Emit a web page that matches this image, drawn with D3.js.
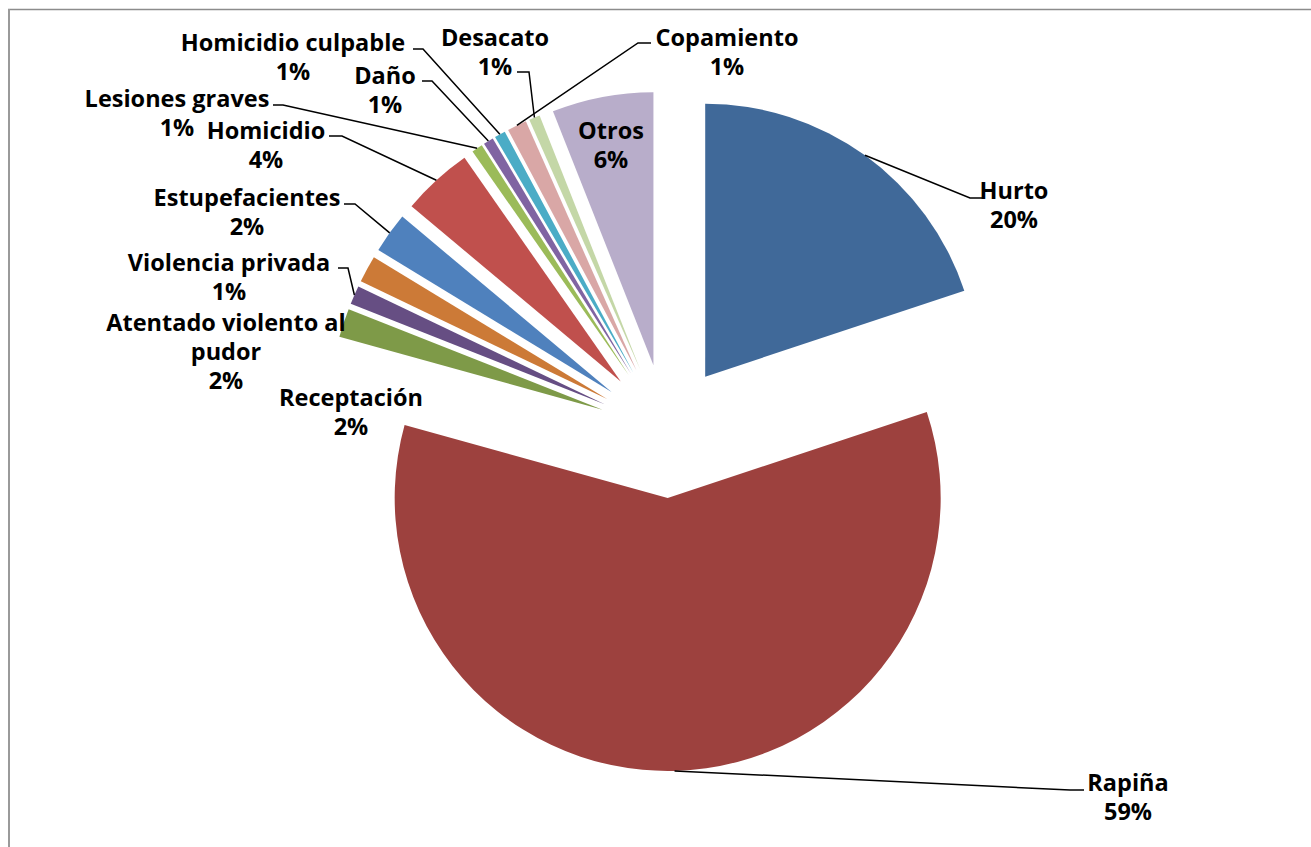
<!DOCTYPE html>
<html>
<head>
<meta charset="utf-8">
<script src="https://cdn.jsdelivr.net/npm/d3@7"></script>
<style>
body { margin: 0; background: #fff; }
svg text { font-family: "Open Sans", sans-serif; font-weight: 700; font-size: 23.5px; fill: #000; }
</style>
</head>
<body>
<svg></svg>
<script>
// Delitos por tipo - pie chart with every slice pulled out

// data, clockwise from 12 o'clock
var categories = ["Hurto", "Rapiña", "Receptación", "Violencia privada", "Atentado violento al pudor",
    "Estupefacientes", "Homicidio", "Lesiones graves", "Daño", "Homicidio culpable",
    "Copamiento", "Desacato", "Otros"]
var values = [19.9, 59.4, 1.7, 1.1, 1.6, 2.4, 4.2, 0.65, 0.6, 0.65, 1.15, 0.65, 6.0]
var colors = ["#406999", "#9d413e", "#7e9a48", "#664e83", "#cc7a37", "#4f81bd", "#c0504d",
    "#9bbb59", "#8064a2", "#4bacc6", "#d9a7a6", "#c4d7a7", "#b8adca"]

var canvasSize = {width: 1311, height: 847}
var center = {x: 666, y: 431}
var radius = 273
var explode = 67          // ~25% of radius, Excel style
var lineHeight = 29

// where Excel left each label: centre x, baseline of first line
var labelPos = {
    "Hurto": [1014, 199],
    "Rapiña": [1128, 791],
    "Receptación": [351, 406],
    "Violencia privada": [229, 271],
    "Atentado violento al pudor": [226, 331],
    "Estupefacientes": [247, 206],
    "Homicidio": [266, 139],
    "Lesiones graves": [177, 107],
    "Daño": [385, 84],
    "Homicidio culpable": [293, 51],
    "Copamiento": [727, 46],
    "Desacato": [495, 46],
    "Otros": [611, 139]
}
// leader elbows: [x at slice side, x at label side, y]
var elbows = {
    "Hurto": [970, 982, 198],
    "Rapiña": [1070, 1084, 790],
    "Violencia privada": [348, 338, 268],
    "Estupefacientes": [355, 344, 204],
    "Homicidio": [342, 329, 136],
    "Lesiones graves": [283, 273, 105],
    "Daño": [432, 422, 81],
    "Homicidio culpable": [423, 413, 49],
    "Desacato": [529, 517, 72],
    "Copamiento": [638, 651, 43]
}
var wrap = {"Atentado violento al pudor": ["Atentado violento al", "pudor"]}

var svg = d3.select("svg")
    .attr("width", canvasSize.width)
    .attr("height", canvasSize.height)

// chart frame (only top and left edges are visible)
svg.append("line").attr("x1", 8).attr("x2", canvasSize.width).attr("y1", 9.5).attr("y2", 9.5)
    .attr("stroke", "#8c8c8c").attr("stroke-width", 1.3)
svg.append("line").attr("x1", 9).attr("x2", 9).attr("y1", 9).attr("y2", canvasSize.height)
    .attr("stroke", "#9a9a9a").attr("stroke-width", 2)

var data = categories.map((c, i) => ({name: c, value: values[i], color: colors[i]}))
var total = d3.sum(values)

var pie = d3.pie().sort(null).value(d => d.value)
var arc = d3.arc().innerRadius(0).outerRadius(radius)
var arcs = pie(data)

function mid(d) { return (d.startAngle + d.endAngle) / 2 }
function offset(d, dist) {
    var a = mid(d)
    return [Math.sin(a) * dist, -Math.cos(a) * dist]
}

var view = svg.append("g").attr("transform", `translate(${center.x},${center.y})`)

view.selectAll("path.slice")
    .data(arcs)
    .enter().append("path")
    .attr("class", "slice")
    .attr("d", arc)
    .attr("fill", d => d.data.color)
    .attr("transform", d => `translate(${offset(d, explode)})`)

// leader lines
var line = d3.line()
svg.selectAll("path.leader")
    .data(arcs.filter(d => elbows[d.data.name]))
    .enter().append("path")
    .attr("class", "leader")
    .attr("fill", "none")
    .attr("stroke", "#000")
    .attr("stroke-width", 1.5)
    .attr("d", d => {
        var p = offset(d, explode + radius)
        var e = elbows[d.data.name]
        return line([[center.x + p[0], center.y + p[1]], [e[0], e[2]], [e[1], e[2]]])
    })

// labels
var labels = svg.selectAll("text.label")
    .data(arcs)
    .enter().append("text")
    .attr("class", "label")
    .attr("text-anchor", "middle")
    .attr("x", d => labelPos[d.data.name][0])
    .attr("y", d => labelPos[d.data.name][1])

labels.each(function(d) {
    var lines = (wrap[d.data.name] || [d.data.name]).concat([Math.round(d.data.value / total * 100) + "%"])
    var t = d3.select(this)
    lines.forEach((s, i) => {
        t.append("tspan")
            .attr("x", labelPos[d.data.name][0])
            .attr("dy", i == 0 ? 0 : lineHeight)
            .text(s)
    })
})
</script>
</body>
</html>
